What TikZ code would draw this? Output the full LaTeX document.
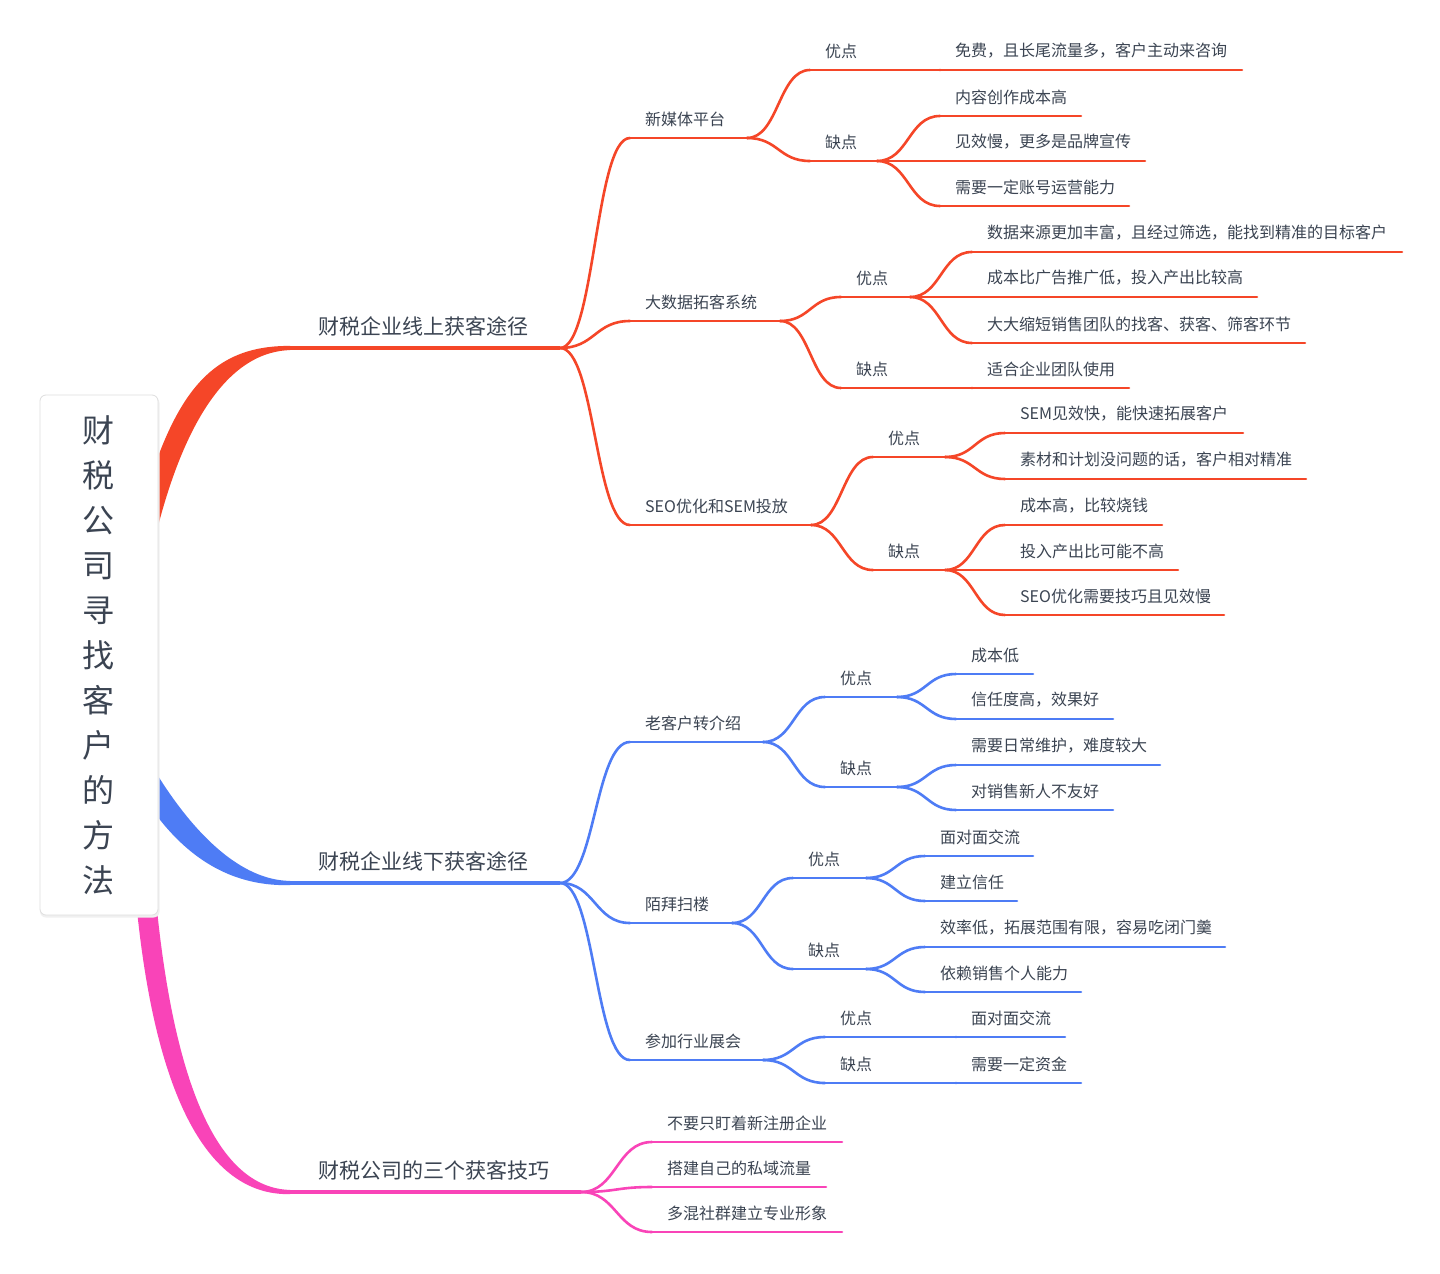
\documentclass[tikz,border=0pt]{standalone}
\usepackage{fontspec}
\setmainfont{Noto Sans CJK SC}
\usetikzlibrary{calc}
\definecolor{cR}{HTML}{F54628}
\definecolor{cB}{HTML}{4E7CF5}
\definecolor{cP}{HTML}{F944B8}
\definecolor{txt}{HTML}{3B4452}
\tikzset{
  lbl/.style={font=\fontsize{16}{18}\selectfont, text=txt, inner sep=0pt, anchor=west},
  mainlbl/.style={font=\fontsize{21}{24}\selectfont, text=txt, inner sep=0pt, anchor=west},
  ln/.style={line width=2.6pt, line cap=round},
  mainln/.style={line width=4.2pt},
  rootbox/.style={draw=black!13, fill=white, rounded corners=6pt, line width=0.8pt,
    minimum width=118pt, minimum height=520pt, inner sep=0pt},
  roottext/.style={font=\fontsize{32}{45}\selectfont, text=txt, align=center, inner sep=0pt},
}
\newcommand\mmn[6]{%
  \coordinate (#1s) at (#2,#4);
  \coordinate (#1e) at (#3,#4);
  \node[lbl] (#1) at ($(#1s)+(15,-19)$) {#6};
  \draw[ln,#5] (#1s) -- (#1e);
}
\newcommand\mmc[3]{%
  \path ($(#2e)!0.5!(#3s)$) coordinate (#3m);
  \draw[ln,#1] (#2e) .. controls (#3m |- #2e) and (#3m |- #3s) .. (#3s);
}
\begin{document}
\begin{tikzpicture}[x=1pt,y=-1pt]
\useasboundingbox (0,0) rectangle (1440,1274);
\fill[white] (0,0) rectangle (1440,1274);

% main branch coordinates
\coordinate (M1s) at (290,348); \coordinate (M1e) at (560,348);
\coordinate (M2s) at (290,883); \coordinate (M2e) at (560,883);
\coordinate (M3s) at (290,1192); \coordinate (M3e) at (581,1192);

% tapered wedges from the root
\fill[cR] (135,530) .. controls (170,400) and (205,345.5) .. (290,345.9)
  -- (290,350.1) .. controls (225,352) and (178,430) .. (150,560) -- cycle;
\fill[cB] (125,715) .. controls (165,800) and (225,880) .. (290,880.9)
  -- (290,885.1) .. controls (215,887) and (160,840) .. (118,750) -- cycle;
\fill[cP] (136,900) .. controls (154,1090) and (205,1196) .. (290,1194.1)
  -- (290,1189.9) .. controls (218,1188) and (174,1085) .. (156,900) -- cycle;

% root
\fill[black!6, rounded corners=6pt] (40,397) rectangle (159.5,917.5);
\node[rootbox] (rootbox) at (99,655) {};
\node[roottext] (root) at (98,655) {财\\税\\公\\司\\寻\\找\\客\\户\\的\\方\\法};

% main branches
\draw[mainln,cR] (M1s) -- (M1e);
\node[mainlbl] (M1) at ($(M1s)+(28,-22)$) {财税企业线上获客途径};
\draw[mainln,cB] (M2s) -- (M2e);
\node[mainlbl] (M2) at ($(M2s)+(28,-22)$) {财税企业线下获客途径};
\draw[mainln,cP] (M3s) -- (M3e);
\node[mainlbl] (M3) at ($(M3s)+(28,-22)$) {财税公司的三个获客技巧};

% red subtree
\mmn{A}{630}{747}{138}{cR}{新媒体平台}
\mmn{A1}{810}{940}{70}{cR}{优点}
\mmn{A1a}{940}{1242}{70}{cR}{免费，且长尾流量多，客户主动来咨询}
\mmn{A2}{810}{877}{161}{cR}{缺点}
\mmn{A2a}{940}{1081}{116}{cR}{内容创作成本高}
\mmn{A2b}{940}{1145}{161}{cR}{见效慢，更多是品牌宣传}
\mmn{A2c}{940}{1129}{206}{cR}{需要一定账号运营能力}
\mmn{B}{630}{780}{321}{cR}{大数据拓客系统}
\mmn{B1}{841}{910}{297}{cR}{优点}
\mmn{B1a}{972}{1402}{252}{cR}{数据来源更加丰富，且经过筛选，能找到精准的目标客户}
\mmn{B1b}{972}{1257}{297}{cR}{成本比广告推广低，投入产出比较高}
\mmn{B1c}{972}{1305}{343}{cR}{大大缩短销售团队的找客、获客、筛客环节}
\mmn{B2}{841}{972}{388}{cR}{缺点}
\mmn{B2a}{972}{1129}{388}{cR}{适合企业团队使用}
\mmn{C}{630}{811}{525}{cR}{SEO优化和SEM投放}
\mmn{C1}{873}{945}{457}{cR}{优点}
\mmn{C1a}{1005}{1243}{433}{cR}{SEM见效快，能快速拓展客户}
\mmn{C1b}{1005}{1306}{479}{cR}{素材和计划没问题的话，客户相对精准}
\mmn{C2}{873}{945}{570}{cR}{缺点}
\mmn{C2a}{1005}{1162}{525}{cR}{成本高，比较烧钱}
\mmn{C2b}{1005}{1178}{570}{cR}{投入产出比可能不高}
\mmn{C2c}{1005}{1224}{615}{cR}{SEO优化需要技巧且见效慢}

\mmc{cR}{M1}{A} \mmc{cR}{M1}{B} \mmc{cR}{M1}{C}
\mmc{cR}{A}{A1} \mmc{cR}{A}{A2} \mmc{cR}{A1}{A1a}
\mmc{cR}{A2}{A2a} \mmc{cR}{A2}{A2b} \mmc{cR}{A2}{A2c}
\mmc{cR}{B}{B1} \mmc{cR}{B}{B2}
\mmc{cR}{B1}{B1a} \mmc{cR}{B1}{B1b} \mmc{cR}{B1}{B1c} \mmc{cR}{B2}{B2a}
\mmc{cR}{C}{C1} \mmc{cR}{C}{C2}
\mmc{cR}{C1}{C1a} \mmc{cR}{C1}{C1b}
\mmc{cR}{C2}{C2a} \mmc{cR}{C2}{C2b} \mmc{cR}{C2}{C2c}

% blue subtree
\mmn{D}{630}{763}{742}{cB}{老客户转介绍}
\mmn{D1}{825}{897}{697}{cB}{优点}
\mmn{D1a}{956}{1033}{674}{cB}{成本低}
\mmn{D1b}{956}{1113}{719}{cB}{信任度高，效果好}
\mmn{D2}{825}{897}{787}{cB}{缺点}
\mmn{D2a}{956}{1160}{765}{cB}{需要日常维护，难度较大}
\mmn{D2b}{956}{1113}{810}{cB}{对销售新人不友好}
\mmn{E}{630}{732}{923}{cB}{陌拜扫楼}
\mmn{E1}{793}{866}{878}{cB}{优点}
\mmn{E1a}{925}{1033}{856}{cB}{面对面交流}
\mmn{E1b}{925}{1017}{901}{cB}{建立信任}
\mmn{E2}{793}{866}{969}{cB}{缺点}
\mmn{E2a}{925}{1225}{947}{cB}{效率低，拓展范围有限，容易吃闭门羹}
\mmn{E2b}{925}{1081}{992}{cB}{依赖销售个人能力}
\mmn{F}{630}{763}{1060}{cB}{参加行业展会}
\mmn{F1}{825}{956}{1037}{cB}{优点}
\mmn{F1a}{956}{1065}{1037}{cB}{面对面交流}
\mmn{F2}{825}{956}{1083}{cB}{缺点}
\mmn{F2a}{956}{1081}{1083}{cB}{需要一定资金}

\mmc{cB}{M2}{D} \mmc{cB}{M2}{E} \mmc{cB}{M2}{F}
\mmc{cB}{D}{D1} \mmc{cB}{D}{D2}
\mmc{cB}{D1}{D1a} \mmc{cB}{D1}{D1b} \mmc{cB}{D2}{D2a} \mmc{cB}{D2}{D2b}
\mmc{cB}{E}{E1} \mmc{cB}{E}{E2}
\mmc{cB}{E1}{E1a} \mmc{cB}{E1}{E1b} \mmc{cB}{E2}{E2a} \mmc{cB}{E2}{E2b}
\mmc{cB}{F}{F1} \mmc{cB}{F}{F2} \mmc{cB}{F1}{F1a} \mmc{cB}{F2}{F2a}

% pink subtree
\mmn{G1}{652}{842}{1142}{cP}{不要只盯着新注册企业}
\mmn{G2}{652}{826}{1187}{cP}{搭建自己的私域流量}
\mmn{G3}{652}{842}{1232}{cP}{多混社群建立专业形象}
\mmc{cP}{M3}{G1} \mmc{cP}{M3}{G2} \mmc{cP}{M3}{G3}
\end{tikzpicture}
\end{document}
